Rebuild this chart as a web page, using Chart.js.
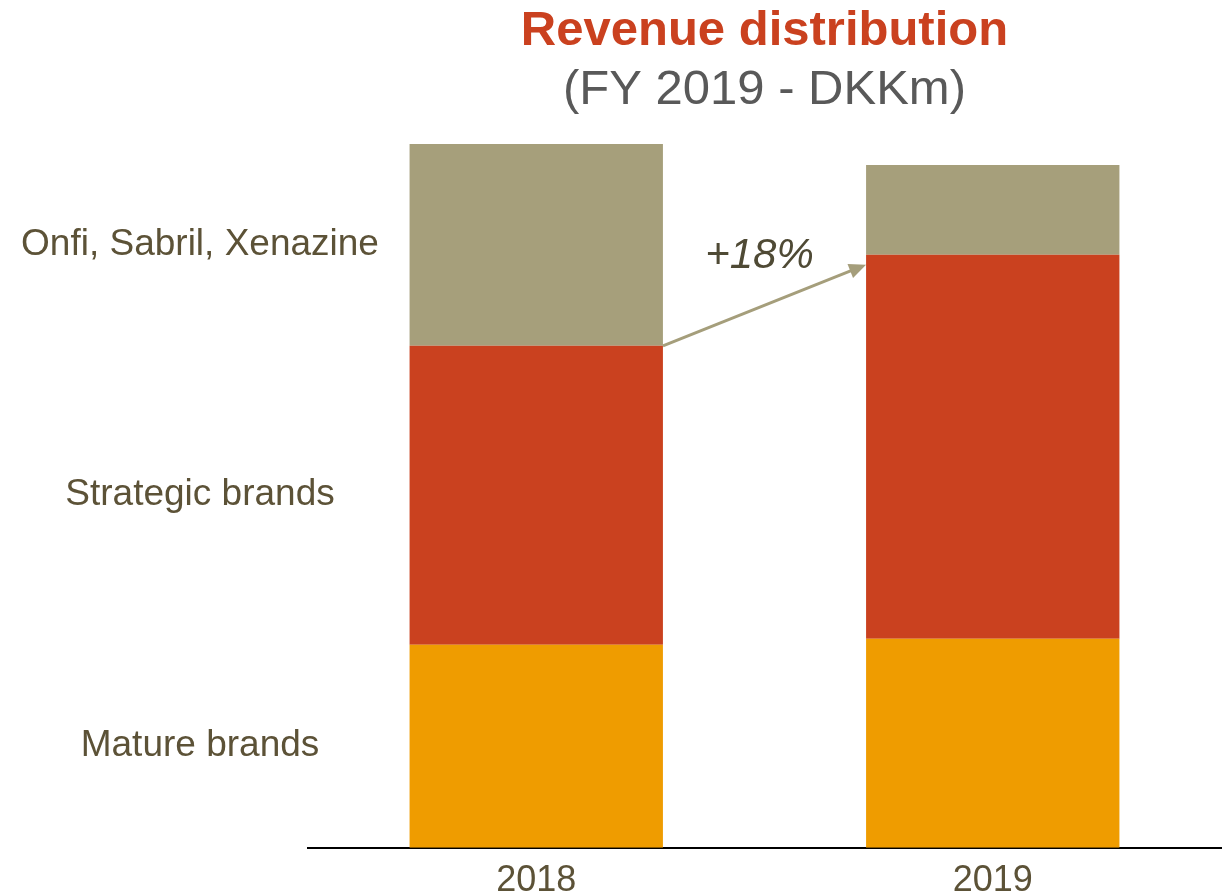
<!DOCTYPE html>
<html>
<head>
<meta charset="utf-8">
<title>Revenue distribution</title>
<script src="https://cdn.jsdelivr.net/npm/chart.js@4"></script>
<style>
  html, body { margin: 0; padding: 0; background: #fff; overflow: hidden; }
  #chartContainer { position: relative; width: 1225px; height: 920px; }
</style>
</head>
<body>
<div id="chartContainer">
  <canvas id="revenueChart"></canvas>
</div>
<script>
// values in DKKm
const years = ['2018', '2019']
const matureBrands = [5220, 5370]
const strategicBrands = [7680, 9870]
const onfiSabrilXenazine = [5190, 2310]
const seriesNames = ['Mature brands', 'Strategic brands', 'Onfi, Sabril, Xenazine']
const growthLabel = '+18%'

const textColor = '#5c5237'

// draws the series names left of the 2018 bar
const sideLabels = {
  id: 'sideLabels',
  afterDatasetsDraw(chart) {
    const ctx = chart.ctx
    ctx.save()
    ctx.font = '37px "Liberation Sans", Arial, sans-serif'
    ctx.fillStyle = textColor
    ctx.textAlign = 'center'
    ctx.textBaseline = 'middle'
    chart.data.datasets.forEach((ds, i) => {
      const bar = chart.getDatasetMeta(i).data[0]
      ctx.fillText(ds.label, 200, (bar.y + bar.base) / 2)
    })
    ctx.restore()
  },
}

// arrow between the strategic brands segments
const growthArrow = {
  id: 'growthArrow',
  afterDatasetsDraw(chart) {
    const meta = chart.getDatasetMeta(1)
    const a = meta.data[0]
    const b = meta.data[1]
    const x1 = a.x + a.width / 2
    const y1 = a.y
    const x2 = b.x - b.width / 2
    const y2 = b.y + 10
    const ang = Math.atan2(y2 - y1, x2 - x1)
    const ctx = chart.ctx
    ctx.save()
    ctx.strokeStyle = '#a59e7b'
    ctx.fillStyle = '#a59e7b'
    ctx.lineWidth = 3
    ctx.beginPath()
    ctx.moveTo(x1, y1)
    ctx.lineTo(x2 - 12 * Math.cos(ang), y2 - 12 * Math.sin(ang))
    ctx.stroke()
    ctx.beginPath()
    ctx.moveTo(x2, y2)
    ctx.lineTo(x2 - 17 * Math.cos(ang) + 7.5 * Math.sin(ang), y2 - 17 * Math.sin(ang) - 7.5 * Math.cos(ang))
    ctx.lineTo(x2 - 17 * Math.cos(ang) - 7.5 * Math.sin(ang), y2 - 17 * Math.sin(ang) + 7.5 * Math.cos(ang))
    ctx.closePath()
    ctx.fill()

    ctx.font = 'italic 42px "Liberation Sans", Arial, sans-serif'
    ctx.fillStyle = '#4f4a35'
    ctx.textAlign = 'center'
    ctx.textBaseline = 'alphabetic'
    ctx.fillText(growthLabel, (x1 + x2) / 2 - 5, 268)
    ctx.restore()
  },
}

new Chart(document.getElementById('revenueChart').getContext('2d'), {
  type: 'bar',
  data: {
    labels: years,
    datasets: [
      { label: seriesNames[0], data: matureBrands, backgroundColor: '#ef9c00' },
      { label: seriesNames[1], data: strategicBrands, backgroundColor: '#ca411f' },
      { label: seriesNames[2], data: onfiSabrilXenazine, backgroundColor: '#a69f7b' },
    ],
  },
  options: {
    responsive: true,
    maintainAspectRatio: false,
    animation: false,
    layout: {
      padding: { left: 308, right: 4, top: 0, bottom: 5 },
    },
    datasets: {
      bar: {
        barPercentage: 0.555,
        categoryPercentage: 1,
        borderWidth: 0,
      },
    },
    scales: {
      x: {
        stacked: true,
        grid: { display: false, drawTicks: false },
        border: { display: true, color: '#000', width: 2 },
        ticks: {
          color: textColor,
          padding: 12,
          font: { size: 36, family: '"Liberation Sans", Arial, sans-serif' },
        },
      },
      y: {
        stacked: true,
        display: false,
        min: 0,
        max: 18200,
      },
    },
    plugins: {
      legend: { display: false },
      tooltip: { enabled: false },
      title: {
        display: true,
        text: 'Revenue distribution',
        color: '#ca411f',
        fullSize: false,
        font: { size: 49, weight: 'bold', family: '"Liberation Sans", Arial, sans-serif' },
        padding: { top: 2, bottom: 0 },
      },
      subtitle: {
        display: true,
        text: '(FY 2019 - DKKm)',
        color: '#595959',
        fullSize: false,
        font: { size: 49, family: '"Liberation Sans", Arial, sans-serif' },
        padding: { top: 0, bottom: 20 },
      },
    },
  },
  plugins: [sideLabels, growthArrow],
})
</script>
</body>
</html>
